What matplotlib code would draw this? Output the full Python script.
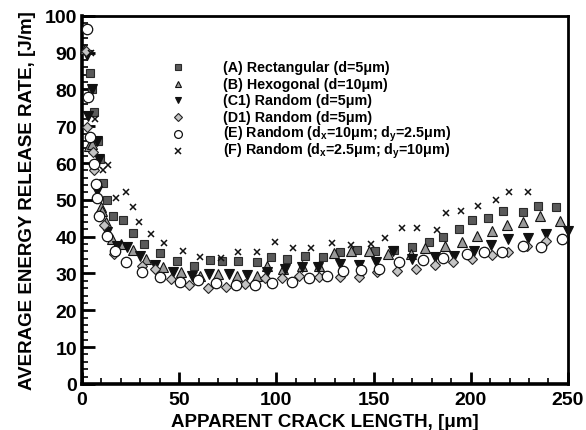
import numpy as np
import matplotlib.pyplot as plt

plt.rcParams['font.family'] = ['Liberation Sans', 'DejaVu Sans']
plt.rcParams['font.weight'] = 'bold'
plt.rcParams['mathtext.fontset'] = 'custom'
plt.rcParams['mathtext.rm'] = 'Liberation Sans'
plt.rcParams['mathtext.bf'] = 'Liberation Sans:bold'

# (A) rectangular, d=5um
a_x = [4, 5, 6.3, 8, 9.3, 11, 13, 16, 21, 26, 32, 40, 49, 57.5, 66, 72, 80.5, 90, 97,
       105.5, 114.5, 124, 133, 141.5, 151, 160.5, 170, 178.5, 186, 194, 200.5, 209,
       216.5, 227, 234.5, 244]
a_y = [84.5, 80, 74, 66, 61, 54.5, 50, 45.5, 44.5, 41, 38, 35.5, 33.5, 32, 33.7, 33.5,
       33.5, 33, 34.5, 33.8, 34.8, 34.4, 35.8, 36.4, 36, 36.4, 37.3, 38.6, 40, 42, 44.6,
       45, 47, 46.7, 48.4, 48]

# (B) hexagonal, d=10um
b_x = [1.5, 3.6, 5, 9.5, 10.5, 12.3, 15.4, 20, 26, 32.8, 41.8, 50.8, 60.6, 70, 79.6, 90,
       95, 103.4, 113, 122, 129.6, 138.4, 147.6, 157.4, 169.2, 176.4, 186.7, 195.5,
       203.2, 211, 218.6, 226.8, 235.6, 246]
b_y = [91, 64.7, 65.2, 48, 47, 44, 39.4, 38, 36.4, 34, 31.8, 30.4, 29.4, 29.9, 29.3, 29.4,
       32, 31.2, 32, 32, 35.6, 36.1, 36.1, 35.3, 35.3, 36.9, 37.5, 38.6, 40.2, 41.6, 43.2,
       44, 45.6, 44.3]

# (C1) random, d=5um
c_x = [2.7, 3.2, 5, 7.6, 8.7, 7.7, 13, 18, 23, 30, 37.5, 47, 56.4, 65.5, 75.8, 84.8, 95,
       104.4, 113, 121.5, 132.7, 142.5, 151.2, 160, 170, 181.6, 191.4, 201.6, 210.4, 219,
       229.4, 239, 250]
c_y = [89.4, 72.8, 80, 66, 61.1, 52.5, 41.2, 37.5, 37.2, 34.8, 32.3, 30.4, 29.4, 29.9,
       29.9, 29.6, 30.4, 31.2, 31.8, 31.8, 32.6, 32.3, 33.2, 36.1, 34, 34.5, 34.8, 36.1,
       37.8, 39.4, 39.7, 40.8, 41.6]

# (D1) random, d=5um
d_x = [2, 2.7, 5.6, 6.2, 11.3, 16.5, 30.7, 37.5, 45.7, 55, 64.6, 74, 83.7, 94, 103, 111.6,
       122, 132.7, 142.5, 151.7, 162, 171.8, 181.6, 190.8, 200.6, 211, 219, 229, 239, 247]
d_y = [90.5, 69.8, 63, 58, 43.2, 35.3, 32, 31.2, 28.5, 26.9, 26, 26.4, 27.1, 28.7, 28.7,
       29.4, 29, 29, 29, 30.4, 30.7, 31.3, 32.3, 33.2, 34, 35, 35.9, 37.5, 38.9, 39.4]

# (E) random, dx=10um, dy=2.5um
e_x = [2.7, 3.2, 4.1, 6.2, 7.2, 7.6, 8.9, 12.8, 17, 22.6, 30.7, 40, 50.4, 59.8, 69, 79,
       89, 98, 108, 116.8, 126, 134.3, 143.5, 153, 163, 175.4, 185.7, 198, 206.8, 216,
       226.8, 236, 247]
e_y = [96.5, 78, 67, 59.8, 54.4, 50.5, 45.5, 40.2, 36.2, 33.2, 30.5, 29, 27.6, 28.2, 27.4,
       26.9, 26.9, 27.4, 27.7, 28.8, 29.4, 30.7, 31, 31.3, 33.1, 33.7, 34.2, 35.3, 35.8,
       35.8, 37.5, 37.2, 39.4]

# (F) random, dx=2.5um, dy=10um
f_x = [4.5, 6.7, 10.6, 13.5, 17.5, 22.6, 26, 29.5, 35.5, 42.3, 52, 60.7, 71.5, 80.5, 90,
       99.5, 108.7, 118, 128.6, 138.4, 148.6, 156, 164.6, 172.3, 182.6, 187.5, 195,
       203.7, 213, 219.6, 229.4]
f_y = [90, 72, 58, 59.6, 50.5, 52, 48, 44, 40.8, 38.2, 36, 34.4, 34.2, 35.8, 35.8, 38.5,
       36.9, 36.9, 38.2, 37.6, 38, 39.6, 42.4, 42.4, 41.9, 46.5, 47, 48.4, 50, 52, 52.2]

labels = ['(A) Rectangular (d=5μm)',
          '(B) Hexogonal (d=10μm)',
          '(C1) Random (d=5μm)',
          '(D1) Random (d=5μm)',
          r'(E) Random (d$_\mathbf{x}$=10μm; d$_\mathbf{y}$=2.5μm)',
          r'(F) Random (d$_\mathbf{x}$=2.5μm; d$_\mathbf{y}$=10μm)']

# marker, size, face, edge, edge width for each series
styles = [('s', 6.0, '#5a5a5a', '#2a2a2a', 0.8),
          ('^', 6.5, '#9a9a9a', '#111111', 0.8),
          ('v', 6.5, '#111111', '#111111', 0.8),
          ('D', 5.5, '#c4c4c4', '#222222', 0.8),
          ('o', 7.5, 'white', '#111111', 0.9),
          ('x', 5.0, 'none', '#111111', 1.1)]

fig = plt.figure(figsize=(5.86, 4.31), dpi=100)
ax = fig.add_axes([0.14, 0.107, 0.829, 0.854])

series = [(a_x, a_y), (b_x, b_y), (c_x, c_y), (d_x, d_y), (e_x, e_y), (f_x, f_y)]
for (xs, ys), (m, s, fc, ec, ew) in zip(series, styles):
    ax.plot(xs, ys, m, ms=s, mfc=fc, mec=ec, mew=ew, clip_on=False, zorder=3)

ax.set_xlim(0, 250)
ax.set_ylim(0, 100)
ax.set_xticks(np.arange(0, 251, 50))
ax.set_yticks(np.arange(0, 101, 10))
ax.set_xticks(np.arange(0, 251, 10), minor=True)
ax.set_yticks(np.arange(0, 101, 2), minor=True)
ax.tick_params(which='major', direction='in', length=9, width=2, labelsize=14,
               top=False, right=False)
ax.tick_params(which='minor', direction='in', length=4, width=1.2, top=False, right=False)
ax.tick_params(axis='x', pad=5)
for lab in ax.get_xticklabels() + ax.get_yticklabels():
    lab.set_fontweight('bold')

for side in ['left', 'bottom']:
    ax.spines[side].set_linewidth(2.6)
for side in ['top', 'right']:
    ax.spines[side].set_linewidth(2.0)

ax.set_xlabel('APPARENT CRACK LENGTH, [μm]', fontsize=13.5, fontweight='bold', labelpad=4)
ax.set_ylabel('AVERAGE ENERGY RELEASE RATE, [J/m]', fontsize=13.5, fontweight='bold', labelpad=6)

# key block drawn row by row
row_y0, row_gap = 0.861, 0.0454
for i, (lab, (m, s, fc, ec, ew)) in enumerate(zip(labels, styles)):
    y = row_y0 - i * row_gap
    ax.plot([0.1975], [y], m, ms=s * 0.75, mfc=fc, mec=ec, mew=ew,
            transform=ax.transAxes, clip_on=False)
    ax.text(0.29, y, lab, transform=ax.transAxes, fontsize=10.3, fontweight='bold',
            va='center', ha='left')

fig.savefig('out.png', dpi=100)
